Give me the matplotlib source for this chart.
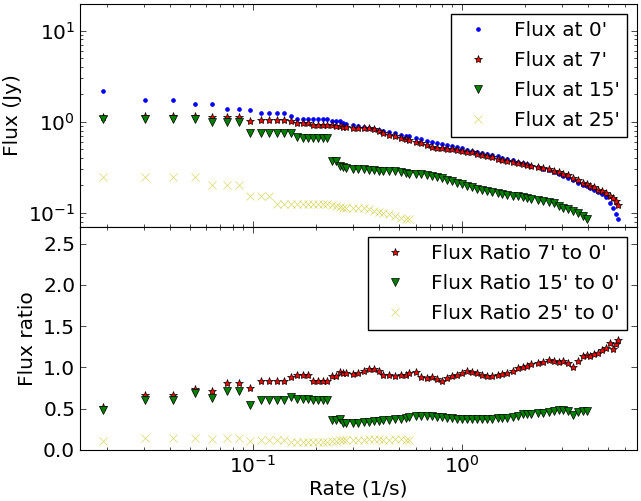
import numpy as np
import matplotlib
matplotlib.use('Agg')
import matplotlib.pyplot as plt
from matplotlib.ticker import LogLocator, MultipleLocator

plt.rcParams['font.family'] = 'DejaVu Sans'
plt.rcParams['font.size'] = 14.5

# rate grid (1/s)
rate = [0.0193, 0.0304, 0.0413, 0.0528, 0.0637, 0.0754, 0.0857, 0.0968, 0.1089, 0.1197,
        0.1298, 0.1407, 0.1515, 0.1623, 0.1731, 0.1839, 0.1947, 0.2055, 0.2163, 0.2271,
        0.2379, 0.2487, 0.26, 0.27, 0.28, 0.30, 0.32, 0.34, 0.36, 0.38,
        0.40, 0.42, 0.45, 0.48, 0.51, 0.54, 0.56, 0.60, 0.64, 0.68,
        0.72, 0.76, 0.80, 0.85, 0.90, 0.95, 1.00, 1.06, 1.12, 1.18,
        1.25, 1.32, 1.40, 1.48, 1.56, 1.65, 1.75, 1.85, 1.95, 2.05,
        2.15, 2.30, 2.45, 2.60, 2.75, 2.90, 3.05, 3.20, 3.40, 3.60,
        3.80, 3.95, 4.10, 4.30, 4.50, 4.70, 4.90, 5.10, 5.30, 5.45, 5.60]

flux_0 = [2.16, 1.74, 1.74, 1.57, 1.57, 1.39, 1.39, 1.35, 1.25, 1.25,
          1.25, 1.25, 1.16, 1.08, 1.08, 1.08, 1.08, 1.08, 1.08, 1.07,
          1.03, 1.02, 1.01, 0.98, 0.95, 0.91, 0.895, 0.88, 0.86, 0.84,
          0.82, 0.80, 0.77, 0.745, 0.72, 0.70, 0.69, 0.66, 0.64, 0.62,
          0.60, 0.585, 0.57, 0.555, 0.54, 0.525, 0.51, 0.49, 0.475, 0.465,
          0.455, 0.445, 0.435, 0.42, 0.405, 0.395, 0.38, 0.365, 0.35, 0.34,
          0.325, 0.315, 0.305, 0.292, 0.28, 0.265, 0.252, 0.24, 0.227, 0.215,
          0.203, 0.195, 0.188, 0.178, 0.168, 0.16, 0.148, 0.128, 0.112, 0.097, 0.086]

flux_7 = [1.12, 1.15, 1.15, 1.16, 1.13, 1.13, 1.13, 1.02, 1.04, 1.04,
          1.04, 1.04, 1.02, 0.97, 0.97, 0.97, 0.92, 0.91, 0.91, 0.91,
          0.91, 0.90, 0.90, 0.88, 0.87, 0.86, 0.86, 0.86, 0.85, 0.84,
          0.80, 0.75, 0.72, 0.69, 0.665, 0.65, 0.635, 0.60, 0.58, 0.56,
          0.53, 0.52, 0.515, 0.505, 0.50, 0.49, 0.48, 0.47, 0.46, 0.445,
          0.43, 0.42, 0.41, 0.395, 0.385, 0.375, 0.365, 0.355, 0.345, 0.335,
          0.325, 0.315, 0.31, 0.30, 0.29, 0.28, 0.268, 0.258, 0.24, 0.228,
          0.215, 0.208, 0.197, 0.19, 0.18, 0.172, 0.165, 0.155, 0.147, 0.135, 0.122]

flux_15 = [1.07, 1.06, 1.06, 1.08, 1.00, 1.00, 1.00, 0.76, 0.76, 0.76,
           0.76, 0.76, 0.76, 0.68, 0.67, 0.67, 0.67, 0.67, 0.67, 0.67,
           0.37, 0.37, 0.33, 0.315, 0.31, 0.305, 0.30, 0.30, 0.295, 0.295,
           0.29, 0.29, 0.285, 0.285, 0.28, 0.275, 0.27, 0.27, 0.265, 0.26,
           0.255, 0.245, 0.24, 0.23, 0.222, 0.212, 0.205, 0.197, 0.19, 0.185,
           0.18, 0.175, 0.17, 0.166, 0.163, 0.158, 0.155, 0.152, 0.148, 0.145,
           0.143, 0.14, 0.135, 0.131, 0.127, 0.12, 0.114, 0.11, 0.105, 0.099,
           0.092, 0.085]

flux_25 = [0.25, 0.25, 0.25, 0.25, 0.20, 0.20, 0.20, 0.152, 0.152, 0.152,
           0.126, 0.126, 0.126, 0.126, 0.126, 0.126, 0.126, 0.125, 0.125, 0.124,
           0.122, 0.12, 0.116, 0.114, 0.114, 0.114, 0.113, 0.112, 0.11, 0.104,
           0.102, 0.10, 0.098, 0.092, 0.088, 0.086, 0.085]

ratio_7 = [0.52, 0.66, 0.66, 0.74, 0.72, 0.81, 0.81, 0.75, 0.83, 0.83,
           0.83, 0.83, 0.88, 0.91, 0.91, 0.91, 0.84, 0.84, 0.84, 0.84,
           0.89, 0.89, 0.95, 0.93, 0.93, 0.92, 0.93, 0.96, 0.98, 0.98,
           0.96, 0.91, 0.91, 0.90, 0.91, 0.91, 0.93, 0.94, 0.88, 0.87,
           0.88, 0.86, 0.84, 0.87, 0.90, 0.91, 0.93, 0.96, 0.95, 0.93,
           0.91, 0.89, 0.89, 0.91, 0.92, 0.93, 0.96, 0.99, 1.00, 1.02,
           1.04, 1.05, 1.07, 1.09, 1.08, 1.07, 1.08, 1.05, 1.01, 1.08,
           1.14, 1.15, 1.14, 1.16, 1.18, 1.21, 1.24, 1.30, 1.22, 1.28, 1.33]

ratio_15 = [0.48, 0.60, 0.60, 0.69, 0.63, 0.72, 0.72, 0.54, 0.60, 0.60,
            0.60, 0.60, 0.64, 0.62, 0.62, 0.62, 0.61, 0.61, 0.61, 0.61,
            0.36, 0.36, 0.38, 0.33, 0.33, 0.33, 0.33, 0.335, 0.34, 0.35,
            0.355, 0.36, 0.365, 0.37, 0.38, 0.39, 0.40, 0.41, 0.41, 0.41,
            0.41, 0.40, 0.40, 0.39, 0.39, 0.38, 0.38, 0.37, 0.37, 0.37,
            0.37, 0.38, 0.38, 0.385, 0.39, 0.39, 0.40, 0.41, 0.43, 0.44,
            0.44, 0.45, 0.45, 0.46, 0.47, 0.48, 0.49, 0.47, 0.42, 0.46,
            0.47, 0.47]

ratio_25 = [0.11, 0.14, 0.14, 0.15, 0.13, 0.14, 0.14, 0.11, 0.12, 0.12,
            0.12, 0.12, 0.10, 0.10, 0.10, 0.10, 0.10, 0.10, 0.10, 0.10,
            0.11, 0.11, 0.12, 0.12, 0.12, 0.12, 0.12, 0.12, 0.13, 0.13,
            0.13, 0.12, 0.12, 0.13, 0.13, 0.12, 0.12]

fig = plt.figure(figsize=(6.41, 5.01), dpi=100)
ax1 = fig.add_axes([0.1248, 0.5469, 0.869, 0.4451])
ax2 = fig.add_axes([0.1248, 0.1018, 0.869, 0.4451], sharex=ax1)

def n(vals):
    return rate[:len(vals)]

mk = dict(linestyle='none', markeredgewidth=0.5)
ax1.plot(n(flux_0), flux_0, marker='.', color='b', markersize=5.5, label="Flux at 0'", **mk)
ax1.plot(n(flux_7), flux_7, marker='*', color='r', markeredgecolor='k', markersize=6, label="Flux at 7'", **mk)
ax1.plot(n(flux_15), flux_15, marker='v', color='g', markeredgecolor='k', markersize=6, label="Flux at 15'", **mk)
ax1.plot(n(flux_25), flux_25, marker='x', color='y', alpha=0.6, markersize=5.5, label="Flux at 25'", **mk)

ax2.plot(n(ratio_7), ratio_7, marker='*', color='r', markeredgecolor='k', markersize=6, label="Flux Ratio 7' to 0'", **mk)
ax2.plot(n(ratio_15), ratio_15, marker='v', color='g', markeredgecolor='k', markersize=6, label="Flux Ratio 15' to 0'", **mk)
ax2.plot(n(ratio_25), ratio_25, marker='x', color='y', alpha=0.6, markersize=5.5, label="Flux Ratio 25' to 0'", **mk)

ax1.set_xscale('log')
ax1.set_yscale('log')
ax1.set_xlim(0.0149, 6.88)
ax1.set_ylim(0.07, 19.6)
ax2.set_ylim(0, 2.7)
ax2.yaxis.set_major_locator(MultipleLocator(0.5))
ax1.yaxis.set_minor_locator(LogLocator(base=10, subs=np.arange(2, 10)))

for ax in (ax1, ax2):
    ax.tick_params(which='both', direction='in', top=True, right=True, labelsize=14.5)
    ax.tick_params(which='major', length=4, width=0.5)
    ax.tick_params(which='minor', length=2, width=0.5)
plt.setp(ax1.get_xticklabels(), visible=False)

ax1.set_ylabel('Flux (Jy)')
ax2.set_ylabel('Flux ratio')
ax2.set_xlabel('Rate (1/s)', labelpad=2)

leg_kw = dict(numpoints=1, fontsize=14.5, fancybox=False, framealpha=1, edgecolor='k',
              borderpad=0.35, labelspacing=0.55, handlelength=2, handletextpad=0.8,
              borderaxespad=0.5)
l1 = ax1.legend(loc='upper right', **leg_kw)
l2 = ax2.legend(loc='upper right', **leg_kw)
for l in (l1, l2):
    l.get_frame().set_linewidth(1.0)

fig.savefig('out.png', dpi=100, facecolor='white')
